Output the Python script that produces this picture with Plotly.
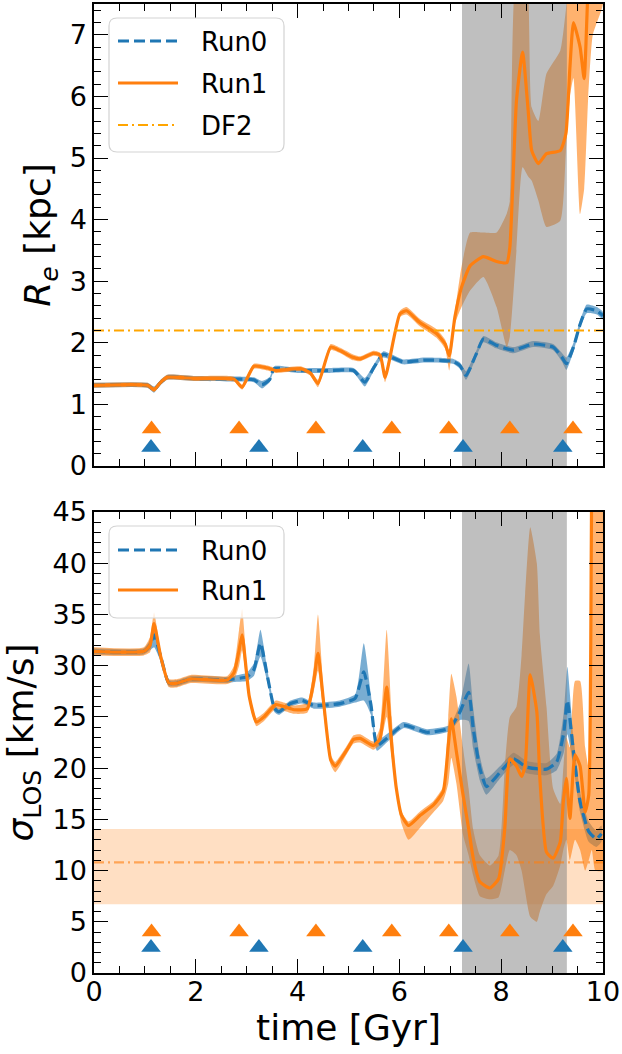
import plotly.graph_objects as go

# ---------------- data ----------------
# Top panel: effective radius [kpc]
T_RE0 = [0.0, 1.05, 1.18, 1.3, 1.44, 2.0, 2.9, 3.14, 3.3, 3.45, 3.54, 4.0, 4.6, 5.1, 5.32, 5.5, 5.68,
         6.07, 6.5, 7.05, 7.19, 7.31, 7.5, 7.65, 7.9, 8.24, 8.63, 9.02, 9.19, 9.28, 9.42, 9.55, 9.68,
         9.88, 10.0]
RE0 = [1.31, 1.31, 1.24, 1.35, 1.44, 1.42, 1.41, 1.40, 1.32, 1.40, 1.58, 1.55, 1.55, 1.55, 1.36, 1.60,
       1.81, 1.69, 1.72, 1.70, 1.63, 1.47, 1.80, 2.06, 1.96, 1.88, 1.98, 1.93, 1.77, 1.66, 1.93, 2.30,
       2.55, 2.52, 2.44]
RE0_ERR = [0.04, 0.04, 0.05, 0.04, 0.04, 0.04, 0.04, 0.04, 0.06, 0.04, 0.04, 0.04, 0.04, 0.04, 0.07,
           0.05, 0.05, 0.04, 0.04, 0.04, 0.05, 0.07, 0.05, 0.05, 0.05, 0.05, 0.05, 0.05, 0.07, 0.10,
           0.07, 0.06, 0.07, 0.06, 0.06]

T_RE1 = [0.0, 1.05, 1.18, 1.3, 1.44, 2.0, 2.75, 2.91, 3.14, 3.41, 3.57, 4.06, 4.25, 4.40, 4.65, 4.84,
         5.07, 5.23, 5.49, 5.62, 5.72, 6.01, 6.14, 6.40, 6.73, 6.90, 6.98, 7.09, 7.22, 7.39, 7.65, 7.91,
         8.11, 8.17, 8.30, 8.42, 8.53, 8.60, 8.73, 8.89, 9.16, 9.27, 9.35, 9.42, 9.55, 9.63, 9.71, 9.8,
         10.0]
RE1 = [1.31, 1.31, 1.24, 1.35, 1.44, 1.42, 1.41, 1.28, 1.62, 1.59, 1.55, 1.58, 1.51, 1.34, 1.93, 1.87,
       1.77, 1.74, 1.83, 1.80, 1.44, 2.47, 2.52, 2.33, 2.15, 1.98, 1.79, 2.42, 2.90, 3.25, 3.40, 3.32,
       3.30, 3.55, 5.93, 6.72, 5.77, 5.12, 4.91, 5.07, 5.12, 5.39, 6.47, 7.20, 6.80, 6.29, 7.8, 8.5, 9.0]
RE1_LO = [1.27, 1.27, 1.20, 1.31, 1.40, 1.38, 1.37, 1.24, 1.58, 1.55, 1.51, 1.54, 1.47, 1.28, 1.88, 1.83,
          1.72, 1.70, 1.79, 1.76, 1.36, 2.42, 2.46, 2.27, 2.08, 1.90, 1.55, 2.30, 2.58, 2.85, 3.07, 2.58,
          1.93, 2.10, 3.50, 4.85, 4.70, 4.63, 4.31, 3.88, 3.98, 5.10, 6.00, 6.30, 4.09, 4.50, 6.0, 7.0, 7.5]
RE1_HI = [1.35, 1.35, 1.28, 1.39, 1.48, 1.46, 1.45, 1.32, 1.66, 1.63, 1.59, 1.62, 1.55, 1.40, 1.98, 1.92,
          1.82, 1.78, 1.87, 1.84, 1.50, 2.52, 2.58, 2.39, 2.22, 2.05, 1.86, 2.50, 3.23, 3.79, 3.79, 3.79,
          4.10, 4.30, 8.0, 8.0, 7.6, 5.82, 5.60, 6.37, 6.74, 7.40, 8.0, 8.0, 8.0, 8.0, 9.0, 9.0, 9.5]

# Bottom panel: line-of-sight velocity dispersion [km/s]
T_SIG0 = [0.0, 0.98, 1.1, 1.18, 1.31, 1.47, 1.64, 1.9, 2.62, 2.75, 3.0, 3.14, 3.27, 3.41, 3.54, 3.63,
          3.86, 4.09, 4.32, 4.83, 5.13, 5.3, 5.44, 5.56, 5.75, 6.08, 6.54, 6.99, 7.19, 7.36, 7.45, 7.58,
          7.71, 7.98, 8.24, 8.5, 8.89, 9.09, 9.23, 9.30, 9.42, 9.55, 9.72, 9.87, 9.97]
SIG0 = [31.4, 31.4, 32.0, 33.0, 30.9, 28.3, 28.3, 28.7, 28.6, 28.7, 28.9, 29.6, 32.2, 28.9, 25.9, 25.5,
        26.3, 26.6, 26.1, 26.3, 26.8, 29.4, 26.2, 22.2, 22.9, 24.2, 23.5, 23.9, 25.5, 27.4, 23.9, 20.0,
        18.2, 19.6, 20.9, 20.1, 19.9, 20.6, 23.5, 26.6, 21.6, 16.7, 13.8, 13.1, 13.6]
SIG0_ERR = [0.3, 0.3, 0.5, 1.2, 0.5, 0.3, 0.3, 0.3, 0.3, 0.3, 0.4, 0.6, 1.3, 0.6, 0.4, 0.3, 0.3, 0.3,
            0.3, 0.3, 0.4, 2.8, 1.0, 0.5, 0.4, 0.3, 0.3, 0.3, 0.8, 2.8, 2.0, 1.2, 0.8, 0.6, 0.6, 0.6,
            0.6, 0.8, 2.0, 3.3, 1.5, 1.0, 1.0, 0.8, 0.8]

T_SIG1 = [0.0, 0.98, 1.1, 1.18, 1.31, 1.47, 1.64, 1.9, 2.62, 2.75, 2.85, 2.91, 3.05, 3.19, 3.34, 3.57,
          3.73, 3.93, 4.19, 4.32, 4.40, 4.52, 4.65, 4.74, 4.97, 5.1, 5.23, 5.49, 5.62, 5.75, 5.85, 5.94,
          6.04, 6.18, 6.41, 6.67, 6.86, 6.96, 7.02, 7.12, 7.25, 7.36, 7.45, 7.58, 7.78, 7.95, 8.07, 8.17,
          8.30, 8.40, 8.47, 8.57, 8.70, 8.76, 8.89, 9.02, 9.16, 9.22, 9.28, 9.35, 9.45, 9.55, 9.65, 9.72,
          9.78, 9.85, 10.0]
SIG1 = [31.4, 31.4, 32.0, 34.1, 30.9, 28.3, 28.3, 28.7, 28.6, 29.3, 31.5, 33.0, 27.0, 24.5, 25.0, 26.2,
        26.0, 25.7, 25.8, 28.6, 31.2, 26.0, 20.8, 20.2, 21.8, 22.8, 22.9, 22.2, 22.9, 27.9, 22.2, 18.0,
        15.4, 14.4, 15.4, 16.4, 17.7, 22.2, 24.8, 21.6, 17.4, 14.1, 11.2, 8.9, 8.3, 9.2, 14.1, 20.9,
        20.2, 19.2, 20.2, 29.1, 25.5, 19.0, 11.8, 11.2, 12.8, 16.7, 19.0, 15.1, 21.3, 20.2, 15.7, 17.4,
        48.0, 60.0, 60.0]
SIG1_LO = [31.0, 31.0, 31.3, 33.0, 30.4, 27.9, 27.9, 28.3, 28.2, 28.6, 30.0, 31.5, 26.5, 24.1, 24.6, 25.8,
           25.6, 25.3, 25.4, 27.5, 29.5, 25.0, 20.3, 19.6, 21.4, 22.4, 22.5, 21.8, 22.3, 25.0, 21.0, 17.5,
           14.6, 13.0, 14.2, 15.7, 16.8, 18.5, 21.0, 18.5, 13.5, 11.5, 9.5, 7.5, 7.2, 7.4, 10.0, 12.0,
           11.5, 10.0, 8.0, 5.5, 5.0, 6.0, 7.7, 8.5, 10.5, 12.0, 13.0, 11.0, 13.0, 12.0, 10.0, 11.0,
           12.0, 10.0, 10.0]
SIG1_HI = [31.8, 31.8, 32.8, 35.2, 31.4, 28.7, 28.7, 29.1, 29.0, 30.0, 33.5, 35.5, 27.5, 24.9, 25.4, 26.6,
           26.4, 26.1, 26.4, 30.0, 35.0, 27.0, 21.3, 20.6, 22.2, 23.2, 23.3, 22.6, 24.0, 33.5, 25.0, 18.5,
           15.8, 14.8, 15.8, 16.8, 18.2, 25.0, 29.2, 27.0, 22.0, 18.0, 14.0, 11.5, 10.5, 11.5, 20.0, 25.0,
           26.0, 31.0, 37.0, 43.5, 40.0, 33.0, 26.0, 18.0, 16.5, 20.0, 23.0, 22.0, 28.5, 28.5, 22.0, 20.0,
           50.0, 70.0, 70.0]

# pericentre passages (triangles)
PERI_RUN0 = [1.12, 3.24, 5.28, 7.25, 9.21]
PERI_RUN1 = [1.13, 2.85, 4.36, 5.85, 6.97, 8.17, 9.41]
TRI_RE_RUN0, TRI_RE_RUN1 = 0.3, 0.6
TRI_SIG_RUN0, TRI_SIG_RUN1 = 2.5, 4.0

# DF2 observational values
DF2_RE = 2.2
DF2_SIG, DF2_SIG_LO, DF2_SIG_HI = 10.8, 6.7, 14.05

# shaded epoch
SHADE_T0, SHADE_T1 = 7.23, 9.29

X_RANGE = [0, 10]
RE_RANGE = [0, 7.5]
SIG_RANGE = [0, 45]

LEGEND_TOP = ["Run0", "Run1", "DF2"]
LEGEND_BOTTOM = ["Run0", "Run1"]

# ---------------- style ----------------
BLUE = "#1f77b4"
ORANGE = "#ff7f0e"
DF2_COLOR = "#ffa500"
BLUE_FILL = "rgba(31,119,180,0.6)"
ORANGE_FILL = "rgba(255,127,14,0.6)"
GRAY = "rgba(128,128,128,0.5)"
FONT = "DejaVu Sans"
DASH = "11px,5px"
DASHDOT = "10px,4px,2px,4px"
SPLINE = dict(shape="spline", smoothing=0.5)

W, H = 622, 1054
ML, MR, MT, MB = 94, 19, 4, 81
PW, PH = W - ML - MR, H - MT - MB


def px(pix):  # pixel column -> paper x
    return (pix - ML) / PW


def py(pix):  # pixel row -> paper y
    return (H - MB - pix) / PH


fig = go.Figure()


def band(t, lo, hi, color, xa, ya):
    fig.add_trace(go.Scatter(x=list(t) + list(t)[::-1], y=list(hi) + list(lo)[::-1],
                             fill="toself", fillcolor=color, line=dict(width=0, **SPLINE),
                             mode="lines", hoverinfo="skip", showlegend=False, xaxis=xa, yaxis=ya))


def shade(yr, xa, ya):
    fig.add_trace(go.Scatter(x=[SHADE_T0, SHADE_T1, SHADE_T1, SHADE_T0, SHADE_T0],
                             y=[yr[0], yr[0], yr[1], yr[1], yr[0]],
                             fill="toself", fillcolor=GRAY, line=dict(width=0), mode="lines",
                             hoverinfo="skip", showlegend=False, xaxis=xa, yaxis=ya))


def tri(t, level, color, xa, ya):
    fig.add_trace(go.Scatter(x=t, y=[level] * len(t), mode="markers",
                             marker=dict(symbol="triangle-up", size=17, color=color, line=dict(width=0)),
                             showlegend=False, xaxis=xa, yaxis=ya))


# ---- top panel ----
band(T_RE0, [m - e for m, e in zip(RE0, RE0_ERR)], [m + e for m, e in zip(RE0, RE0_ERR)],
     BLUE_FILL, "x", "y")
band(T_RE1, RE1_LO, RE1_HI, ORANGE_FILL, "x", "y")
shade(RE_RANGE, "x", "y")
fig.add_trace(go.Scatter(x=T_RE0, y=RE0, mode="lines", name="Run0", showlegend=False,
                         line=dict(color=BLUE, width=3.2, dash=DASH, **SPLINE), xaxis="x", yaxis="y"))
fig.add_trace(go.Scatter(x=T_RE1, y=RE1, mode="lines", name="Run1", showlegend=False,
                         line=dict(color=ORANGE, width=3.2, **SPLINE), xaxis="x", yaxis="y"))
fig.add_trace(go.Scatter(x=X_RANGE, y=[DF2_RE, DF2_RE], mode="lines", name="DF2", showlegend=False,
                         line=dict(color=DF2_COLOR, width=2.2, dash=DASHDOT), xaxis="x", yaxis="y"))
tri(PERI_RUN1, TRI_RE_RUN1, ORANGE, "x", "y")
tri(PERI_RUN0, TRI_RE_RUN0, BLUE, "x", "y")

# ---- bottom panel ----
fig.add_trace(go.Scatter(x=[X_RANGE[0], X_RANGE[1], X_RANGE[1], X_RANGE[0], X_RANGE[0]],
                         y=[DF2_SIG_LO, DF2_SIG_LO, DF2_SIG_HI, DF2_SIG_HI, DF2_SIG_LO],
                         fill="toself", fillcolor="rgba(255,127,14,0.25)", line=dict(width=0),
                         mode="lines", hoverinfo="skip", showlegend=False, xaxis="x2", yaxis="y2"))
band(T_SIG0, [m - e for m, e in zip(SIG0, SIG0_ERR)], [m + e for m, e in zip(SIG0, SIG0_ERR)],
     BLUE_FILL, "x2", "y2")
band(T_SIG1, SIG1_LO, SIG1_HI, ORANGE_FILL, "x2", "y2")
shade(SIG_RANGE, "x2", "y2")
fig.add_trace(go.Scatter(x=X_RANGE, y=[DF2_SIG, DF2_SIG], mode="lines", showlegend=False,
                         line=dict(color="rgba(255,127,14,0.6)", width=2.2, dash=DASHDOT),
                         xaxis="x2", yaxis="y2"))
fig.add_trace(go.Scatter(x=T_SIG0, y=SIG0, mode="lines", name="Run0", showlegend=False,
                         line=dict(color=BLUE, width=3.2, dash=DASH, **SPLINE), xaxis="x2", yaxis="y2"))
fig.add_trace(go.Scatter(x=T_SIG1, y=SIG1, mode="lines", name="Run1", showlegend=False,
                         line=dict(color=ORANGE, width=3.2, **SPLINE), xaxis="x2", yaxis="y2"))
tri(PERI_RUN1, TRI_SIG_RUN1, ORANGE, "x2", "y2")
tri(PERI_RUN0, TRI_SIG_RUN0, BLUE, "x2", "y2")

# ---------------- legends (drawn as boxes, line samples and text) ----------------
shapes, annotations = [], []
LEG_STYLE = {"Run0": dict(color=BLUE, width=3.2, dash=DASH),
             "Run1": dict(color=ORANGE, width=3.2, dash="solid"),
             "DF2": dict(color=DF2_COLOR, width=2.2, dash=DASHDOT)}


def rounded_box(x0, y0, x1, y1, r=8):
    X0, X1 = px(x0), px(x1)
    Y0, Y1 = py(y1), py(y0)  # bottom, top (paper)
    rx, ry = r / PW, r / PH
    path = (f"M{X0 + rx},{Y0} L{X1 - rx},{Y0} Q{X1},{Y0} {X1},{Y0 + ry} "
            f"L{X1},{Y1 - ry} Q{X1},{Y1} {X1 - rx},{Y1} L{X0 + rx},{Y1} "
            f"Q{X0},{Y1} {X0},{Y1 - ry} L{X0},{Y0 + ry} Q{X0},{Y0} {X0 + rx},{Y0} Z")
    shapes.append(dict(type="path", path=path, xref="paper", yref="paper", layer="above",
                       fillcolor="rgba(255,255,255,0.8)", line=dict(color="#d3d3d3", width=1.2)))


def legend(names, box, rows):
    rounded_box(*box)
    for name, yy in zip(names, rows):
        shapes.append(dict(type="line", xref="paper", yref="paper", layer="above",
                           x0=px(118), x1=px(178), y0=py(yy), y1=py(yy), line=LEG_STYLE[name]))
        annotations.append(dict(text=name, x=px(199), y=py(yy + 1), xref="paper", yref="paper",
                                xanchor="left", yanchor="middle", showarrow=False,
                                font=dict(family=FONT, size=26, color="black")))


legend(LEGEND_TOP, (109, 18, 284, 152), (41, 83, 125))
legend(LEGEND_BOTTOM, (109, 526, 284, 618), (550, 590))

# ---------------- layout ----------------
minor_style = dict(ticks="inside", ticklen=7, tickwidth=1.1, tickcolor="black", tick0=0, showgrid=False)
axis_common = dict(showline=True, linecolor="black", linewidth=1.5, mirror="allticks",
                   ticks="inside", ticklen=14, tickwidth=1.3, tickcolor="black", showgrid=False,
                   zeroline=False, automargin=False, tickmode="linear", tick0=0,
                   tickfont=dict(family=FONT, size=27, color="black"))

fig.update_layout(
    width=W, height=H, margin=dict(l=ML, r=MR, t=MT, b=MB, autoexpand=False),
    paper_bgcolor="white", plot_bgcolor="white", showlegend=False,
    font=dict(family=FONT, color="black"),
    xaxis=dict(domain=[0, 1], range=X_RANGE, anchor="y", matches="x2", showticklabels=False, dtick=2,
               minor=dict(dtick=0.5, **minor_style), **axis_common),
    yaxis=dict(domain=[py(466), 1], range=RE_RANGE, anchor="x", dtick=1,
               minor=dict(dtick=0.2, **minor_style),
               title=dict(text="<i>R</i><sub><i>e</i></sub> [kpc]", font=dict(family=FONT, size=36),
                          standoff=8), **axis_common),
    xaxis2=dict(domain=[0, 1], range=X_RANGE, anchor="y2", dtick=2, ticklabelstandoff=-6,
                minor=dict(dtick=0.5, **minor_style),
                title=dict(text="time [Gyr]", font=dict(family=FONT, size=36), standoff=0),
                **axis_common),
    yaxis2=dict(domain=[0, py(512)], range=SIG_RANGE, anchor="x2", dtick=5,
                minor=dict(dtick=1, **minor_style),
                title=dict(text="<i>σ</i><sub>LOS</sub> [km/s]", font=dict(family=FONT, size=36),
                           standoff=8), **axis_common),
    shapes=shapes, annotations=annotations,
)

fig.write_html("out.html")
